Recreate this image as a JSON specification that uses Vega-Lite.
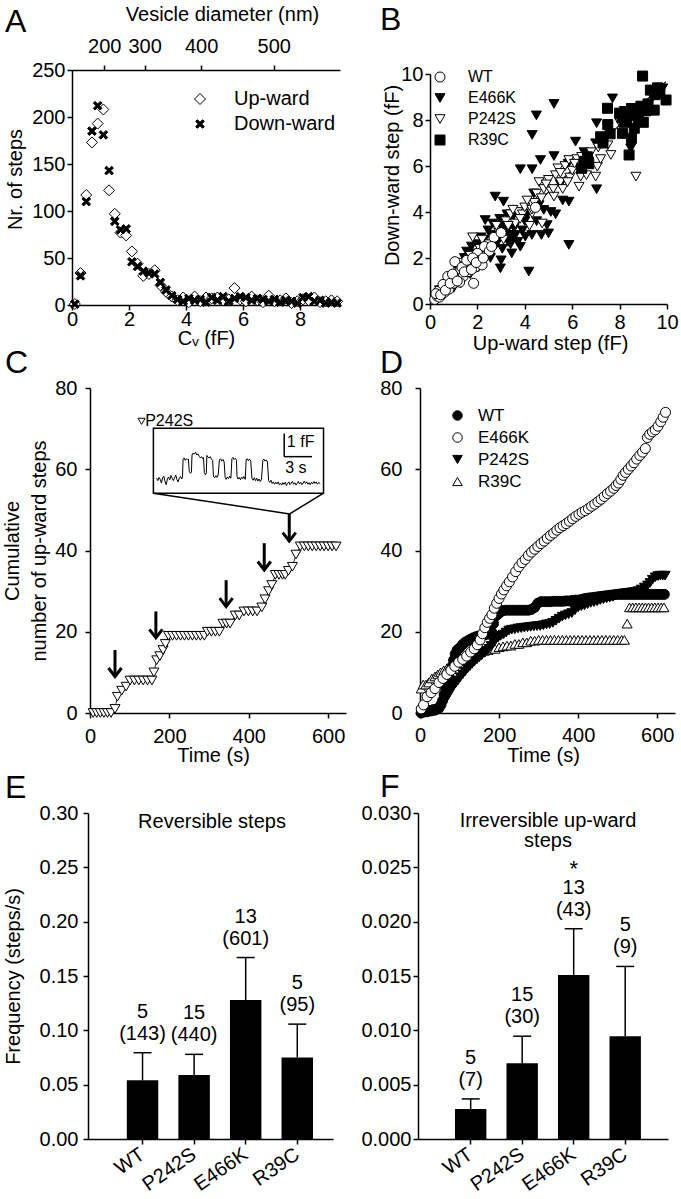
{
"$schema": "https://vega.github.io/schema/vega-lite/v6.json",
"background": "white",
"padding": 0,
"autosize": {"type": "pad"},
"columns": 4,
"spacing": {"row": 0, "column": 0},
"bounds": "flush",
"align": "each",
"resolve": {"scale": {"shape": "independent", "fill": "independent", "stroke": "independent", "size": "independent"}, "legend": {"shape": "independent", "fill": "independent", "stroke": "independent", "size": "independent"}},
"datasets": {
"histA": [
{"cv":0.1,"n":1,"dir":"Up-ward"},{"cv":0.3,"n":34,"dir":"Up-ward"},{"cv":0.5,"n":117,"dir":"Up-ward"},{"cv":0.7,"n":173,"dir":"Up-ward"},{"cv":0.9,"n":193,"dir":"Up-ward"},{"cv":1.1,"n":208,"dir":"Up-ward"},{"cv":1.3,"n":122,"dir":"Up-ward"},{"cv":1.5,"n":97,"dir":"Up-ward"},{"cv":1.7,"n":77,"dir":"Up-ward"},{"cv":1.9,"n":74,"dir":"Up-ward"},{"cv":2.1,"n":57,"dir":"Up-ward"},{"cv":2.3,"n":44,"dir":"Up-ward"},{"cv":2.5,"n":31,"dir":"Up-ward"},{"cv":2.7,"n":33,"dir":"Up-ward"},{"cv":2.9,"n":37,"dir":"Up-ward"},{"cv":3.1,"n":21,"dir":"Up-ward"},{"cv":3.3,"n":14,"dir":"Up-ward"},{"cv":3.5,"n":9,"dir":"Up-ward"},{"cv":3.7,"n":5,"dir":"Up-ward"},{"cv":3.9,"n":8,"dir":"Up-ward"},{"cv":4.1,"n":3,"dir":"Up-ward"},{"cv":4.3,"n":9,"dir":"Up-ward"},{"cv":4.5,"n":4,"dir":"Up-ward"},{"cv":4.7,"n":8,"dir":"Up-ward"},{"cv":4.9,"n":7,"dir":"Up-ward"},{"cv":5.1,"n":8,"dir":"Up-ward"},{"cv":5.3,"n":5,"dir":"Up-ward"},{"cv":5.5,"n":6,"dir":"Up-ward"},{"cv":5.7,"n":18,"dir":"Up-ward"},{"cv":5.9,"n":6,"dir":"Up-ward"},{"cv":6.1,"n":4,"dir":"Up-ward"},{"cv":6.3,"n":9,"dir":"Up-ward"},{"cv":6.5,"n":5,"dir":"Up-ward"},{"cv":6.7,"n":3,"dir":"Up-ward"},{"cv":6.9,"n":10,"dir":"Up-ward"},{"cv":7.1,"n":4,"dir":"Up-ward"},{"cv":7.3,"n":5,"dir":"Up-ward"},{"cv":7.5,"n":7,"dir":"Up-ward"},{"cv":7.7,"n":2,"dir":"Up-ward"},{"cv":7.9,"n":4,"dir":"Up-ward"},{"cv":8.1,"n":6,"dir":"Up-ward"},{"cv":8.3,"n":5,"dir":"Up-ward"},{"cv":8.5,"n":8,"dir":"Up-ward"},{"cv":8.7,"n":3,"dir":"Up-ward"},{"cv":8.9,"n":4,"dir":"Up-ward"},{"cv":9.1,"n":5,"dir":"Up-ward"},{"cv":9.3,"n":4,"dir":"Up-ward"},
{"cv":0.1,"n":1,"dir":"Down-ward"},{"cv":0.3,"n":31,"dir":"Down-ward"},{"cv":0.5,"n":110,"dir":"Down-ward"},{"cv":0.7,"n":185,"dir":"Down-ward"},{"cv":0.9,"n":212,"dir":"Down-ward"},{"cv":1.1,"n":181,"dir":"Down-ward"},{"cv":1.3,"n":143,"dir":"Down-ward"},{"cv":1.5,"n":89,"dir":"Down-ward"},{"cv":1.7,"n":80,"dir":"Down-ward"},{"cv":1.9,"n":81,"dir":"Down-ward"},{"cv":2.1,"n":46,"dir":"Down-ward"},{"cv":2.3,"n":41,"dir":"Down-ward"},{"cv":2.5,"n":36,"dir":"Down-ward"},{"cv":2.7,"n":34,"dir":"Down-ward"},{"cv":2.9,"n":33,"dir":"Down-ward"},{"cv":3.1,"n":24,"dir":"Down-ward"},{"cv":3.3,"n":16,"dir":"Down-ward"},{"cv":3.5,"n":10,"dir":"Down-ward"},{"cv":3.7,"n":6,"dir":"Down-ward"},{"cv":3.9,"n":4,"dir":"Down-ward"},{"cv":4.1,"n":7,"dir":"Down-ward"},{"cv":4.3,"n":5,"dir":"Down-ward"},{"cv":4.5,"n":6,"dir":"Down-ward"},{"cv":4.7,"n":3,"dir":"Down-ward"},{"cv":4.9,"n":8,"dir":"Down-ward"},{"cv":5.1,"n":5,"dir":"Down-ward"},{"cv":5.3,"n":9,"dir":"Down-ward"},{"cv":5.5,"n":4,"dir":"Down-ward"},{"cv":5.7,"n":7,"dir":"Down-ward"},{"cv":5.9,"n":9,"dir":"Down-ward"},{"cv":6.1,"n":8,"dir":"Down-ward"},{"cv":6.3,"n":5,"dir":"Down-ward"},{"cv":6.5,"n":7,"dir":"Down-ward"},{"cv":6.7,"n":6,"dir":"Down-ward"},{"cv":6.9,"n":4,"dir":"Down-ward"},{"cv":7.1,"n":6,"dir":"Down-ward"},{"cv":7.3,"n":3,"dir":"Down-ward"},{"cv":7.5,"n":5,"dir":"Down-ward"},{"cv":7.7,"n":4,"dir":"Down-ward"},{"cv":7.9,"n":2,"dir":"Down-ward"},{"cv":8.1,"n":8,"dir":"Down-ward"},{"cv":8.3,"n":9,"dir":"Down-ward"},{"cv":8.5,"n":4,"dir":"Down-ward"},{"cv":8.7,"n":5,"dir":"Down-ward"},{"cv":8.9,"n":2,"dir":"Down-ward"},{"cv":9.1,"n":3,"dir":"Down-ward"},{"cv":9.3,"n":2,"dir":"Down-ward"}
],
"fitB": [{"up":0.2,"down":0.2},{"up":9.95,"down":9.67}],
"scatB": [
{"up":0.3,"down":0.3,"m":"E466K"},{"up":0.5,"down":0.5,"m":"E466K"},{"up":0.7,"down":0.6,"m":"E466K"},{"up":0.9,"down":0.8,"m":"E466K"},{"up":1.0,"down":1.2,"m":"E466K"},{"up":1.2,"down":1.5,"m":"E466K"},{"up":1.3,"down":0.9,"m":"E466K"},{"up":1.5,"down":1.6,"m":"E466K"},{"up":1.55,"down":2.28,"m":"E466K"},{"up":1.7,"down":1.3,"m":"E466K"},{"up":1.84,"down":2.2,"m":"E466K"},{"up":1.9,"down":1.8,"m":"E466K"},{"up":2.0,"down":2.6,"m":"E466K"},{"up":2.2,"down":2.0,"m":"E466K"},{"up":2.33,"down":3.65,"m":"E466K"},{"up":2.4,"down":2.8,"m":"E466K"},{"up":2.5,"down":2.3,"m":"E466K"},{"up":2.6,"down":3.0,"m":"E466K"},{"up":2.75,"down":4.67,"m":"E466K"},{"up":2.8,"down":2.6,"m":"E466K"},{"up":2.97,"down":1.55,"m":"E466K"},{"up":3.0,"down":3.4,"m":"E466K"},{"up":3.1,"down":4.45,"m":"E466K"},{"up":3.2,"down":2.9,"m":"E466K"},{"up":3.3,"down":3.3,"m":"E466K"},{"up":3.4,"down":2.6,"m":"E466K"},{"up":3.5,"down":3.8,"m":"E466K"},{"up":3.6,"down":3.0,"m":"E466K"},{"up":3.81,"down":2.49,"m":"E466K"},{"up":3.81,"down":5.86,"m":"E466K"},{"up":4.02,"down":2.93,"m":"E466K"},{"up":4.17,"down":1.41,"m":"E466K"},{"up":4.0,"down":3.6,"m":"E466K"},{"up":4.31,"down":5.86,"m":"E466K"},{"up":4.31,"down":7.35,"m":"E466K"},{"up":4.38,"down":4.81,"m":"E466K"},{"up":4.49,"down":8.2,"m":"E466K"},{"up":4.66,"down":6.26,"m":"E466K"},{"up":4.8,"down":4.09,"m":"E466K"},{"up":4.94,"down":3.43,"m":"E466K"},{"up":5.0,"down":3.07,"m":"E466K"},{"up":5.23,"down":8.7,"m":"E466K"},{"up":5.23,"down":6.43,"m":"E466K"},{"up":5.5,"down":5.2,"m":"E466K"},{"up":5.83,"down":6.1,"m":"E466K"},{"up":5.86,"down":4.45,"m":"E466K"},{"up":5.86,"down":2.57,"m":"E466K"},{"up":6.14,"down":7.06,"m":"E466K"},{"up":6.5,"down":6.6,"m":"E466K"},{"up":6.99,"down":6.99,"m":"E466K"},{"up":7.03,"down":7.86,"m":"E466K"},{"up":7.03,"down":4.99,"m":"E466K"},{"up":7.7,"down":8.94,"m":"E466K"},{"up":8.47,"down":6.77,"m":"E466K"},{"up":9.82,"down":9.38,"m":"E466K"},{"up":9.4,"down":9.0,"m":"E466K"},{"up":8.2,"down":8.4,"m":"E466K"},{"up":2.1,"down":2.4,"m":"E466K"},{"up":1.1,"down":1.0,"m":"E466K"},{"up":2.9,"down":3.0,"m":"E466K"},{"up":3.3,"down":2.7,"m":"E466K"},{"up":1.6,"down":2.0,"m":"E466K"},
{"up":0.4,"down":0.6,"m":"E466K"},{"up":0.6,"down":0.4,"m":"E466K"},{"up":0.8,"down":1.1,"m":"E466K"},{"up":1.0,"down":0.7,"m":"E466K"},{"up":1.15,"down":1.7,"m":"E466K"},{"up":1.35,"down":1.3,"m":"E466K"},{"up":1.45,"down":2.0,"m":"E466K"},{"up":1.65,"down":1.7,"m":"E466K"},{"up":1.75,"down":2.5,"m":"E466K"},{"up":1.95,"down":2.1,"m":"E466K"},{"up":2.05,"down":1.6,"m":"E466K"},{"up":2.15,"down":2.9,"m":"E466K"},{"up":2.25,"down":2.5,"m":"E466K"},{"up":2.45,"down":3.2,"m":"E466K"},{"up":2.55,"down":2.0,"m":"E466K"},{"up":2.65,"down":3.5,"m":"E466K"},{"up":2.85,"down":2.9,"m":"E466K"},{"up":2.95,"down":3.7,"m":"E466K"},{"up":3.05,"down":2.4,"m":"E466K"},{"up":3.15,"down":3.2,"m":"E466K"},{"up":3.25,"down":3.9,"m":"E466K"},{"up":3.35,"down":3.0,"m":"E466K"},{"up":3.45,"down":2.2,"m":"E466K"},{"up":3.55,"down":3.3,"m":"E466K"},{"up":3.7,"down":2.7,"m":"E466K"},{"up":3.9,"down":3.2,"m":"E466K"},{"up":4.1,"down":3.9,"m":"E466K"},{"up":4.3,"down":3.0,"m":"E466K"},{"up":4.5,"down":3.6,"m":"E466K"},{"up":4.6,"down":4.3,"m":"E466K"},{"up":4.7,"down":3.0,"m":"E466K"},{"up":5.1,"down":4.0,"m":"E466K"},{"up":5.3,"down":3.9,"m":"E466K"},{"up":5.6,"down":4.5,"m":"E466K"},{"up":2.35,"down":2.3,"m":"E466K"},{"up":1.25,"down":1.1,"m":"E466K"},{"up":3.0,"down":1.9,"m":"E466K"},{"up":3.5,"down":2.9,"m":"E466K"},
{"up":0.3,"down":0.4,"m":"P242S"},{"up":0.6,"down":0.7,"m":"P242S"},{"up":0.8,"down":1.0,"m":"P242S"},{"up":1.1,"down":1.0,"m":"P242S"},{"up":1.4,"down":1.8,"m":"P242S"},{"up":1.7,"down":2.1,"m":"P242S"},{"up":1.8,"down":2.9,"m":"P242S"},{"up":2.1,"down":2.4,"m":"P242S"},{"up":2.4,"down":2.1,"m":"P242S"},{"up":2.6,"down":2.7,"m":"P242S"},{"up":2.9,"down":3.1,"m":"P242S"},{"up":3.2,"down":3.6,"m":"P242S"},{"up":3.4,"down":3.9,"m":"P242S"},{"up":3.6,"down":3.5,"m":"P242S"},{"up":3.7,"down":4.0,"m":"P242S"},{"up":3.9,"down":3.9,"m":"P242S"},{"up":4.2,"down":3.4,"m":"P242S"},{"up":4.31,"down":3.94,"m":"P242S"},{"up":4.5,"down":4.8,"m":"P242S"},{"up":4.6,"down":5.3,"m":"P242S"},{"up":4.73,"down":3.5,"m":"P242S"},{"up":4.8,"down":5.0,"m":"P242S"},{"up":5.0,"down":5.4,"m":"P242S"},{"up":5.1,"down":4.9,"m":"P242S"},{"up":5.23,"down":4.67,"m":"P242S"},{"up":5.3,"down":5.6,"m":"P242S"},{"up":5.4,"down":5.9,"m":"P242S"},{"up":5.5,"down":5.3,"m":"P242S"},{"up":5.6,"down":5.0,"m":"P242S"},{"up":5.7,"down":6.0,"m":"P242S"},{"up":5.86,"down":6.26,"m":"P242S"},{"up":5.9,"down":5.5,"m":"P242S"},{"up":6.0,"down":5.8,"m":"P242S"},{"up":6.2,"down":6.3,"m":"P242S"},{"up":6.29,"down":5.1,"m":"P242S"},{"up":6.36,"down":5.54,"m":"P242S"},{"up":6.5,"down":6.0,"m":"P242S"},{"up":6.7,"down":6.2,"m":"P242S"},{"up":6.99,"down":5.54,"m":"P242S"},{"up":7.06,"down":5.97,"m":"P242S"},{"up":7.1,"down":6.8,"m":"P242S"},{"up":7.3,"down":7.2,"m":"P242S"},{"up":7.63,"down":6.48,"m":"P242S"},{"up":7.5,"down":7.7,"m":"P242S"},{"up":8.69,"down":5.54,"m":"P242S"},{"up":8.0,"down":7.9,"m":"P242S"},{"up":4.0,"down":4.2,"m":"P242S"},{"up":4.4,"down":4.4,"m":"P242S"},
{"up":0.5,"down":0.45,"m":"P242S"},{"up":0.9,"down":0.8,"m":"P242S"},{"up":1.2,"down":1.4,"m":"P242S"},{"up":1.5,"down":1.3,"m":"P242S"},{"up":1.9,"down":1.7,"m":"P242S"},{"up":2.2,"down":2.8,"m":"P242S"},{"up":2.5,"down":2.6,"m":"P242S"},{"up":2.8,"down":3.4,"m":"P242S"},{"up":3.1,"down":2.8,"m":"P242S"},{"up":3.3,"down":3.4,"m":"P242S"},{"up":3.5,"down":4.1,"m":"P242S"},{"up":3.8,"down":3.7,"m":"P242S"},{"up":4.1,"down":4.5,"m":"P242S"},{"up":4.3,"down":4.1,"m":"P242S"},{"up":4.7,"down":4.6,"m":"P242S"},{"up":4.9,"down":5.2,"m":"P242S"},{"up":5.2,"down":5.0,"m":"P242S"},{"up":5.5,"down":5.7,"m":"P242S"},{"up":5.8,"down":5.3,"m":"P242S"},{"up":6.1,"down":6.1,"m":"P242S"},{"up":6.4,"down":6.4,"m":"P242S"},{"up":6.6,"down":5.6,"m":"P242S"},{"up":6.8,"down":6.6,"m":"P242S"},{"up":7.2,"down":6.3,"m":"P242S"},{"up":7.5,"down":6.9,"m":"P242S"},
{"up":0.2,"down":0.2,"m":"WT"},{"up":0.3,"down":0.35,"m":"WT"},{"up":0.4,"down":0.3,"m":"WT"},{"up":0.5,"down":0.6,"m":"WT"},{"up":0.6,"down":0.5,"m":"WT"},{"up":0.7,"down":0.8,"m":"WT"},{"up":0.8,"down":0.65,"m":"WT"},{"up":0.9,"down":1.0,"m":"WT"},{"up":1.0,"down":0.9,"m":"WT"},{"up":1.05,"down":1.84,"m":"WT"},{"up":1.1,"down":1.3,"m":"WT"},{"up":1.2,"down":1.1,"m":"WT"},{"up":1.3,"down":1.5,"m":"WT"},{"up":1.4,"down":1.2,"m":"WT"},{"up":1.5,"down":1.7,"m":"WT"},{"up":1.6,"down":1.4,"m":"WT"},{"up":1.7,"down":1.9,"m":"WT"},{"up":1.84,"down":0.9,"m":"WT"},{"up":1.9,"down":1.6,"m":"WT"},{"up":2.0,"down":2.2,"m":"WT"},{"up":2.1,"down":1.9,"m":"WT"},{"up":2.3,"down":2.5,"m":"WT"},{"up":2.5,"down":2.3,"m":"WT"},{"up":2.7,"down":2.9,"m":"WT"},{"up":3.0,"down":3.1,"m":"WT"},{"up":4.45,"down":4.2,"m":"WT"},{"up":0.35,"down":0.55,"m":"WT"},{"up":0.75,"down":1.2,"m":"WT"},{"up":1.25,"down":0.95,"m":"WT"},{"up":2.2,"down":1.7,"m":"WT"},
{"up":0.25,"down":0.45,"m":"WT"},{"up":0.45,"down":0.4,"m":"WT"},{"up":0.55,"down":0.85,"m":"WT"},{"up":0.65,"down":0.6,"m":"WT"},{"up":0.85,"down":0.9,"m":"WT"},{"up":0.95,"down":1.3,"m":"WT"},{"up":1.15,"down":1.0,"m":"WT"},{"up":1.35,"down":1.6,"m":"WT"},{"up":1.45,"down":1.4,"m":"WT"},{"up":1.55,"down":1.9,"m":"WT"},{"up":1.75,"down":1.5,"m":"WT"},{"up":1.8,"down":2.0,"m":"WT"},{"up":1.95,"down":1.8,"m":"WT"},{"up":2.25,"down":2.0,"m":"WT"},{"up":2.6,"down":2.5,"m":"WT"},
{"up":6.5,"down":6.2,"m":"R39C"},{"up":6.64,"down":6.4,"m":"R39C"},{"up":6.7,"down":6.1,"m":"R39C"},{"up":6.4,"down":5.9,"m":"R39C"},{"up":7.2,"down":7.27,"m":"R39C"},{"up":7.3,"down":7.0,"m":"R39C"},{"up":7.49,"down":8.51,"m":"R39C"},{"up":7.5,"down":7.8,"m":"R39C"},{"up":7.6,"down":7.4,"m":"R39C"},{"up":8.12,"down":7.42,"m":"R39C"},{"up":8.26,"down":8.29,"m":"R39C"},{"up":8.3,"down":8.0,"m":"R39C"},{"up":8.4,"down":6.48,"m":"R39C"},{"up":8.5,"down":8.5,"m":"R39C"},{"up":8.62,"down":7.64,"m":"R39C"},{"up":8.7,"down":8.2,"m":"R39C"},{"up":8.8,"down":8.0,"m":"R39C"},{"up":8.97,"down":9.91,"m":"R39C"},{"up":8.9,"down":8.6,"m":"R39C"},{"up":9.1,"down":8.4,"m":"R39C"},{"up":9.2,"down":8.7,"m":"R39C"},{"up":9.3,"down":9.3,"m":"R39C"},{"up":9.46,"down":8.43,"m":"R39C"},{"up":9.5,"down":9.1,"m":"R39C"},{"up":9.6,"down":9.4,"m":"R39C"},{"up":9.96,"down":8.87,"m":"R39C"},{"up":9.0,"down":7.9,"m":"R39C"},{"up":8.1,"down":8.1,"m":"R39C"},{"up":8.5,"down":7.2,"m":"R39C"},{"up":9.7,"down":9.2,"m":"R39C"},{"up":8.2,"down":7.9,"m":"R39C"},{"up":8.0,"down":8.3,"m":"R39C"}
],
"cumC": [
{"t":8,"n":0},{"t":17,"n":0},{"t":26,"n":0},{"t":35,"n":0},{"t":44,"n":0},{"t":53,"n":0},{"t":63,"n":1},{"t":69,"n":4},{"t":80,"n":5.5},{"t":91,"n":6.5},{"t":101,"n":8},{"t":112,"n":8},{"t":123,"n":8},{"t":134,"n":8},{"t":145,"n":8},{"t":156,"n":8},{"t":161,"n":10},{"t":168,"n":13},{"t":176,"n":14},{"t":184,"n":15.5},{"t":190,"n":17},{"t":198,"n":19},{"t":208,"n":19},{"t":218,"n":19},{"t":228,"n":19},{"t":238,"n":19},{"t":248,"n":19},{"t":258,"n":19},{"t":268,"n":19},{"t":278,"n":19},{"t":288,"n":19},{"t":296,"n":20},{"t":306,"n":20},{"t":316,"n":20},{"t":326,"n":20},{"t":335,"n":22},{"t":344,"n":22},{"t":353,"n":22},{"t":366,"n":24},{"t":376,"n":24},{"t":388,"n":25},{"t":399,"n":25},{"t":410,"n":25},{"t":421,"n":25},{"t":433,"n":26},{"t":441,"n":28},{"t":450,"n":30},{"t":458,"n":31.5},{"t":467,"n":34},{"t":476,"n":34},{"t":485,"n":34},{"t":492,"n":34},{"t":500,"n":35},{"t":510,"n":36},{"t":519,"n":39},{"t":530,"n":41},{"t":540,"n":41},{"t":550,"n":41},{"t":560,"n":41},{"t":570,"n":41},{"t":580,"n":41},{"t":590,"n":41},{"t":600,"n":41},{"t":610,"n":41},{"t":620,"n":41}
],
"arrowC": [{"t":63,"top":15.5,"tip":9},{"t":166,"top":25,"tip":18.5},{"t":343,"top":32.7,"tip":26.2},{"t":439,"top":41.8,"tip":35.2},{"t":502,"top":49,"tip":42.3}],
"boxC": [{"t1":159.7,"t2":588.4,"n1":54.1,"n2":70.1}],
"segC": [{"t1":159.7,"n1":54.1,"t2":503,"n2":49},{"t1":588.4,"n1":54.1,"t2":503,"n2":49},{"t1":489.3,"n1":63.1,"t2":489.3,"n2":68.8},{"t1":489.3,"n1":63.1,"t2":559.2,"n2":63.1}],
"textC": [{"t":139,"n":71.8,"label":"P242S"},{"t":496,"n":66.6,"label":"1 fF"},{"t":492,"n":60.2,"label":"3 s"}],
"traceC": [
{"t":168,"n":57.8},{"t":171,"n":57.2},{"t":174,"n":58.0},{"t":177,"n":57.5},{"t":180,"n":56.6},{"t":183,"n":57.9},{"t":186,"n":58.3},{"t":189,"n":57.0},{"t":192,"n":56.2},{"t":195,"n":57.6},{"t":198,"n":58.1},{"t":201,"n":57.4},{"t":204,"n":58.5},{"t":207,"n":57.8},{"t":210,"n":57.2},{"t":213,"n":57.9},{"t":216,"n":58.6},{"t":219,"n":57.5},{"t":222,"n":56.9},{"t":225,"n":57.8},{"t":228,"n":58.2},{"t":231,"n":57.6},{"t":233,"n":58.0},{"t":234.5,"n":62.4},{"t":237,"n":62.8},{"t":240,"n":62.2},{"t":243,"n":62.6},{"t":246,"n":62.3},{"t":248,"n":62.5},{"t":250,"n":59.5},{"t":253,"n":59.0},{"t":255.5,"n":59.3},{"t":257,"n":63.5},{"t":260,"n":64.0},{"t":263,"n":63.7},{"t":266,"n":64.2},{"t":269,"n":63.5},{"t":272,"n":63.8},{"t":275,"n":63.2},{"t":278,"n":62.8},{"t":281,"n":63.1},{"t":284,"n":62.6},{"t":286,"n":62.9},{"t":288,"n":59.2},{"t":291,"n":58.6},{"t":293,"n":59.0},{"t":294.5,"n":63.4},{"t":297,"n":63.0},{"t":300,"n":62.8},{"t":303,"n":63.1},{"t":306,"n":62.5},{"t":309,"n":62.2},{"t":311,"n":58.3},{"t":314,"n":57.9},{"t":317,"n":58.4},{"t":320,"n":58.0},{"t":323,"n":58.6},{"t":326,"n":62.3},{"t":329,"n":62.6},{"t":332,"n":62.0},{"t":335,"n":62.4},{"t":338,"n":61.8},{"t":340.5,"n":58.0},{"t":343,"n":57.5},{"t":346,"n":58.1},{"t":349,"n":57.7},{"t":352,"n":58.3},{"t":355,"n":57.8},{"t":357.5,"n":62.6},{"t":360,"n":62.9},{"t":363,"n":62.4},{"t":366,"n":62.7},{"t":369,"n":62.2},{"t":370.5,"n":58.2},{"t":373,"n":57.6},{"t":376,"n":58.0},{"t":379,"n":57.4},{"t":382,"n":58.1},{"t":385,"n":57.7},{"t":388,"n":58.2},{"t":391,"n":57.5},{"t":393.5,"n":62.3},{"t":396,"n":62.6},{"t":399,"n":62.1},{"t":402,"n":62.5},{"t":405,"n":62.0},{"t":408,"n":57.8},{"t":411,"n":57.3},{"t":414,"n":57.9},{"t":417,"n":57.2},{"t":420,"n":57.8},{"t":423,"n":57.1},{"t":426,"n":57.6},{"t":429,"n":57.0},{"t":432,"n":57.5},{"t":435.5,"n":62.2},{"t":438,"n":62.5},{"t":441,"n":62.0},{"t":444,"n":62.3},{"t":447,"n":61.8},{"t":450,"n":57.2},{"t":453,"n":56.8},{"t":456,"n":57.3},{"t":459,"n":56.5},{"t":462,"n":56.9},{"t":465,"n":56.3},{"t":468,"n":56.8},{"t":471,"n":56.4},{"t":474,"n":56.9},{"t":477,"n":56.2},{"t":480,"n":56.6},{"t":483,"n":56.1},{"t":486,"n":56.7},{"t":489,"n":56.3},{"t":492,"n":56.8},{"t":495,"n":56.0},{"t":498,"n":56.5},{"t":501,"n":56.9},{"t":504,"n":56.2},{"t":507,"n":56.6},{"t":510,"n":57.0},{"t":513,"n":56.3},{"t":516,"n":56.7},{"t":519,"n":56.1},{"t":522,"n":56.5},{"t":525,"n":57.0},{"t":528,"n":56.4},{"t":531,"n":56.8},{"t":534,"n":56.2},{"t":537,"n":56.6},{"t":540,"n":57.1},{"t":543,"n":56.5},{"t":546,"n":56.9},{"t":549,"n":56.3},{"t":552,"n":56.7},{"t":555,"n":56.2},{"t":558,"n":56.8},{"t":561,"n":56.4},{"t":564,"n":57.0},{"t":567,"n":56.5},{"t":570,"n":56.9},{"t":573,"n":56.3},{"t":576,"n":56.7},{"t":580,"n":56.5}
],
"cumD": [
{"t":3,"n":6,"m":"R39C"},{"t":8,"n":7,"m":"R39C"},{"t":15,"n":7,"m":"R39C"},{"t":22,"n":7.5,"m":"R39C"},{"t":30,"n":8.5,"m":"R39C"},{"t":38,"n":9,"m":"R39C"},{"t":45,"n":9.5,"m":"R39C"},{"t":52,"n":10,"m":"R39C"},{"t":60,"n":10.5,"m":"R39C"},{"t":68,"n":11,"m":"R39C"},{"t":78,"n":11.4,"m":"R39C"},{"t":86,"n":12.5,"m":"R39C"},{"t":95,"n":13,"m":"R39C"},{"t":103,"n":13.5,"m":"R39C"},{"t":111,"n":13.8,"m":"R39C"},{"t":120,"n":14.2,"m":"R39C"},{"t":128,"n":14.6,"m":"R39C"},{"t":136,"n":14.8,"m":"R39C"},{"t":145,"n":15,"m":"R39C"},{"t":154,"n":15,"m":"R39C"},{"t":163,"n":15.3,"m":"R39C"},{"t":172,"n":15.5,"m":"R39C"},{"t":180,"n":15.8,"m":"R39C"},{"t":190,"n":15.8,"m":"R39C"},{"t":200,"n":16.2,"m":"R39C"},{"t":210,"n":16.4,"m":"R39C"},{"t":220,"n":16.6,"m":"R39C"},{"t":230,"n":16.6,"m":"R39C"},{"t":240,"n":17,"m":"R39C"},{"t":250,"n":17,"m":"R39C"},{"t":260,"n":17.4,"m":"R39C"},{"t":270,"n":17.4,"m":"R39C"},{"t":280,"n":17.8,"m":"R39C"},{"t":290,"n":17.8,"m":"R39C"},{"t":300,"n":18,"m":"R39C"},{"t":310,"n":18,"m":"R39C"},{"t":320,"n":18,"m":"R39C"},{"t":330,"n":18,"m":"R39C"},{"t":340,"n":18,"m":"R39C"},{"t":350,"n":18,"m":"R39C"},{"t":360,"n":18,"m":"R39C"},{"t":370,"n":18,"m":"R39C"},{"t":380,"n":18,"m":"R39C"},{"t":390,"n":18,"m":"R39C"},{"t":400,"n":18,"m":"R39C"},{"t":410,"n":18,"m":"R39C"},{"t":420,"n":18,"m":"R39C"},{"t":430,"n":18,"m":"R39C"},{"t":440,"n":18,"m":"R39C"},{"t":450,"n":18,"m":"R39C"},{"t":460,"n":18,"m":"R39C"},{"t":470,"n":18,"m":"R39C"},{"t":480,"n":18,"m":"R39C"},{"t":490,"n":18,"m":"R39C"},{"t":500,"n":18,"m":"R39C"},{"t":510,"n":18,"m":"R39C"},{"t":517,"n":18,"m":"R39C"},{"t":524,"n":22,"m":"R39C"},{"t":530,"n":26,"m":"R39C"},{"t":538,"n":26,"m":"R39C"},{"t":546,"n":26,"m":"R39C"},{"t":554,"n":26,"m":"R39C"},{"t":562,"n":26,"m":"R39C"},{"t":570,"n":26,"m":"R39C"},{"t":578,"n":26,"m":"R39C"},{"t":586,"n":26,"m":"R39C"},{"t":594,"n":26,"m":"R39C"},{"t":602,"n":26,"m":"R39C"},{"t":610,"n":26,"m":"R39C"},{"t":617,"n":26,"m":"R39C"},
{"t":5,"n":0,"m":"P242S"},{"t":12,"n":0,"m":"P242S"},{"t":19,"n":0.3,"m":"P242S"},{"t":26,"n":0.5,"m":"P242S"},{"t":33,"n":0.5,"m":"P242S"},{"t":40,"n":0.8,"m":"P242S"},{"t":47,"n":1,"m":"P242S"},{"t":54,"n":1.5,"m":"P242S"},{"t":60,"n":2.5,"m":"P242S"},{"t":66,"n":3.5,"m":"P242S"},{"t":72,"n":4.5,"m":"P242S"},{"t":78,"n":5.5,"m":"P242S"},{"t":84,"n":6.5,"m":"P242S"},{"t":90,"n":7.3,"m":"P242S"},{"t":96,"n":8,"m":"P242S"},{"t":102,"n":8.8,"m":"P242S"},{"t":108,"n":9.5,"m":"P242S"},{"t":114,"n":10.2,"m":"P242S"},{"t":120,"n":10.9,"m":"P242S"},{"t":126,"n":11.5,"m":"P242S"},{"t":132,"n":12.1,"m":"P242S"},{"t":138,"n":12.7,"m":"P242S"},{"t":144,"n":13.2,"m":"P242S"},{"t":150,"n":13.7,"m":"P242S"},{"t":156,"n":14.2,"m":"P242S"},{"t":162,"n":14.8,"m":"P242S"},{"t":168,"n":15.3,"m":"P242S"},{"t":174,"n":15.8,"m":"P242S"},{"t":180,"n":16.5,"m":"P242S"},{"t":186,"n":17.3,"m":"P242S"},{"t":192,"n":18.1,"m":"P242S"},{"t":198,"n":18.6,"m":"P242S"},{"t":204,"n":19,"m":"P242S"},{"t":211,"n":19.3,"m":"P242S"},{"t":218,"n":19.8,"m":"P242S"},{"t":225,"n":20.3,"m":"P242S"},{"t":232,"n":20.5,"m":"P242S"},{"t":240,"n":20.6,"m":"P242S"},{"t":248,"n":20.8,"m":"P242S"},{"t":256,"n":20.9,"m":"P242S"},{"t":264,"n":21,"m":"P242S"},{"t":272,"n":21.1,"m":"P242S"},{"t":280,"n":21.2,"m":"P242S"},{"t":288,"n":21.3,"m":"P242S"},{"t":296,"n":21.4,"m":"P242S"},{"t":304,"n":21.4,"m":"P242S"},{"t":312,"n":21.6,"m":"P242S"},{"t":320,"n":21.8,"m":"P242S"},{"t":328,"n":21.9,"m":"P242S"},{"t":336,"n":22.2,"m":"P242S"},{"t":344,"n":22.7,"m":"P242S"},{"t":352,"n":23.2,"m":"P242S"},{"t":360,"n":23.7,"m":"P242S"},{"t":368,"n":24,"m":"P242S"},{"t":376,"n":24.3,"m":"P242S"},{"t":384,"n":24.6,"m":"P242S"},{"t":392,"n":25.3,"m":"P242S"},{"t":400,"n":26,"m":"P242S"},{"t":408,"n":26.3,"m":"P242S"},{"t":416,"n":26.5,"m":"P242S"},{"t":424,"n":26.8,"m":"P242S"},{"t":432,"n":27.1,"m":"P242S"},{"t":440,"n":27.3,"m":"P242S"},{"t":448,"n":27.5,"m":"P242S"},{"t":456,"n":27.8,"m":"P242S"},{"t":464,"n":28,"m":"P242S"},{"t":472,"n":28.2,"m":"P242S"},{"t":480,"n":28.4,"m":"P242S"},{"t":488,"n":28.6,"m":"P242S"},{"t":496,"n":28.9,"m":"P242S"},{"t":504,"n":29.2,"m":"P242S"},{"t":512,"n":29.4,"m":"P242S"},{"t":520,"n":29.5,"m":"P242S"},{"t":528,"n":29.6,"m":"P242S"},{"t":536,"n":29.7,"m":"P242S"},{"t":544,"n":29.8,"m":"P242S"},{"t":552,"n":30,"m":"P242S"},{"t":560,"n":30.4,"m":"P242S"},{"t":568,"n":30.9,"m":"P242S"},{"t":576,"n":31.4,"m":"P242S"},{"t":582,"n":32,"m":"P242S"},{"t":588,"n":32.8,"m":"P242S"},{"t":595,"n":33.4,"m":"P242S"},{"t":602,"n":33.7,"m":"P242S"},{"t":608,"n":33.8,"m":"P242S"},{"t":614,"n":33.8,"m":"P242S"},{"t":620,"n":33.8,"m":"P242S"},
{"t":3,"n":0,"m":"WT"},{"t":8,"n":0.3,"m":"WT"},{"t":13,"n":0.5,"m":"WT"},{"t":18,"n":0.3,"m":"WT"},{"t":23,"n":0.6,"m":"WT"},{"t":28,"n":0.5,"m":"WT"},{"t":33,"n":0.8,"m":"WT"},{"t":38,"n":0.7,"m":"WT"},{"t":43,"n":1,"m":"WT"},{"t":48,"n":1.2,"m":"WT"},{"t":53,"n":2,"m":"WT"},{"t":57,"n":3,"m":"WT"},{"t":61,"n":4.5,"m":"WT"},{"t":65,"n":6,"m":"WT"},{"t":69,"n":7.5,"m":"WT"},{"t":73,"n":9,"m":"WT"},{"t":77,"n":10.5,"m":"WT"},{"t":81,"n":11.5,"m":"WT"},{"t":85,"n":13,"m":"WT"},{"t":89,"n":14.5,"m":"WT"},{"t":94,"n":15.5,"m":"WT"},{"t":100,"n":16,"m":"WT"},{"t":107,"n":16.8,"m":"WT"},{"t":114,"n":17.4,"m":"WT"},{"t":121,"n":17.8,"m":"WT"},{"t":128,"n":18.2,"m":"WT"},{"t":135,"n":18.5,"m":"WT"},{"t":142,"n":18.8,"m":"WT"},{"t":150,"n":19,"m":"WT"},{"t":158,"n":19.2,"m":"WT"},{"t":166,"n":19.3,"m":"WT"},{"t":174,"n":19.5,"m":"WT"},{"t":181,"n":20,"m":"WT"},{"t":186,"n":22,"m":"WT"},{"t":191,"n":23.8,"m":"WT"},{"t":197,"n":24.3,"m":"WT"},{"t":203,"n":24.8,"m":"WT"},{"t":210,"n":25.2,"m":"WT"},{"t":218,"n":25.3,"m":"WT"},{"t":226,"n":25.3,"m":"WT"},{"t":234,"n":25.3,"m":"WT"},{"t":242,"n":25.3,"m":"WT"},{"t":250,"n":25.3,"m":"WT"},{"t":258,"n":25.3,"m":"WT"},{"t":266,"n":25.3,"m":"WT"},{"t":274,"n":25.3,"m":"WT"},{"t":282,"n":25.5,"m":"WT"},{"t":290,"n":26,"m":"WT"},{"t":298,"n":27,"m":"WT"},{"t":306,"n":27.4,"m":"WT"},{"t":314,"n":27.4,"m":"WT"},{"t":322,"n":27.4,"m":"WT"},{"t":330,"n":27.4,"m":"WT"},{"t":338,"n":27.5,"m":"WT"},{"t":346,"n":27.5,"m":"WT"},{"t":354,"n":27.5,"m":"WT"},{"t":362,"n":27.5,"m":"WT"},{"t":370,"n":27.6,"m":"WT"},{"t":378,"n":27.6,"m":"WT"},{"t":386,"n":27.7,"m":"WT"},{"t":394,"n":27.8,"m":"WT"},{"t":402,"n":27.8,"m":"WT"},{"t":410,"n":28,"m":"WT"},{"t":418,"n":28.2,"m":"WT"},{"t":426,"n":28.3,"m":"WT"},{"t":434,"n":28.4,"m":"WT"},{"t":442,"n":28.5,"m":"WT"},{"t":450,"n":28.6,"m":"WT"},{"t":458,"n":28.7,"m":"WT"},{"t":466,"n":28.8,"m":"WT"},{"t":474,"n":28.9,"m":"WT"},{"t":482,"n":29,"m":"WT"},{"t":490,"n":29.1,"m":"WT"},{"t":498,"n":29.2,"m":"WT"},{"t":506,"n":29.2,"m":"WT"},{"t":514,"n":29.2,"m":"WT"},{"t":522,"n":29.2,"m":"WT"},{"t":530,"n":29.2,"m":"WT"},{"t":538,"n":29.2,"m":"WT"},{"t":546,"n":29.2,"m":"WT"},{"t":554,"n":29.2,"m":"WT"},{"t":562,"n":29.2,"m":"WT"},{"t":570,"n":29.2,"m":"WT"},{"t":578,"n":29.2,"m":"WT"},{"t":586,"n":29.2,"m":"WT"},{"t":594,"n":29.2,"m":"WT"},{"t":602,"n":29.2,"m":"WT"},{"t":610,"n":29.2,"m":"WT"},{"t":618,"n":29.2,"m":"WT"},
{"t":3,"n":1,"m":"E466K"},{"t":9,"n":2,"m":"E466K"},{"t":18,"n":4,"m":"E466K"},{"t":28,"n":5,"m":"E466K"},{"t":38,"n":6,"m":"E466K"},{"t":48,"n":7.5,"m":"E466K"},{"t":58,"n":8.5,"m":"E466K"},{"t":68,"n":9.5,"m":"E466K"},{"t":78,"n":10.5,"m":"E466K"},{"t":88,"n":11.5,"m":"E466K"},{"t":98,"n":12.5,"m":"E466K"},{"t":108,"n":13.2,"m":"E466K"},{"t":118,"n":14,"m":"E466K"},{"t":128,"n":15,"m":"E466K"},{"t":137,"n":15.8,"m":"E466K"},{"t":145,"n":16.8,"m":"E466K"},{"t":152,"n":18,"m":"E466K"},{"t":158,"n":19.5,"m":"E466K"},{"t":164,"n":21,"m":"E466K"},{"t":170,"n":22.3,"m":"E466K"},{"t":176,"n":23.3,"m":"E466K"},{"t":182,"n":24.2,"m":"E466K"},{"t":188,"n":25.8,"m":"E466K"},{"t":194,"n":27,"m":"E466K"},{"t":200,"n":28.2,"m":"E466K"},{"t":206,"n":29.3,"m":"E466K"},{"t":212,"n":30.3,"m":"E466K"},{"t":219,"n":31.3,"m":"E466K"},{"t":226,"n":32.3,"m":"E466K"},{"t":234,"n":33.5,"m":"E466K"},{"t":242,"n":34.8,"m":"E466K"},{"t":250,"n":36,"m":"E466K"},{"t":258,"n":37,"m":"E466K"},{"t":266,"n":37.8,"m":"E466K"},{"t":274,"n":38.8,"m":"E466K"},{"t":282,"n":39.6,"m":"E466K"},{"t":290,"n":40.3,"m":"E466K"},{"t":298,"n":41,"m":"E466K"},{"t":306,"n":41.7,"m":"E466K"},{"t":314,"n":42.3,"m":"E466K"},{"t":322,"n":43,"m":"E466K"},{"t":330,"n":43.7,"m":"E466K"},{"t":338,"n":44.3,"m":"E466K"},{"t":346,"n":45,"m":"E466K"},{"t":354,"n":45.6,"m":"E466K"},{"t":362,"n":46.1,"m":"E466K"},{"t":370,"n":46.6,"m":"E466K"},{"t":378,"n":47.2,"m":"E466K"},{"t":386,"n":47.8,"m":"E466K"},{"t":394,"n":48.4,"m":"E466K"},{"t":402,"n":48.9,"m":"E466K"},{"t":410,"n":49.4,"m":"E466K"},{"t":418,"n":49.8,"m":"E466K"},{"t":426,"n":50.3,"m":"E466K"},{"t":434,"n":50.9,"m":"E466K"},{"t":442,"n":51.4,"m":"E466K"},{"t":450,"n":52,"m":"E466K"},{"t":458,"n":52.6,"m":"E466K"},{"t":466,"n":53.3,"m":"E466K"},{"t":474,"n":54,"m":"E466K"},{"t":482,"n":54.6,"m":"E466K"},{"t":490,"n":55.3,"m":"E466K"},{"t":496,"n":56,"m":"E466K"},{"t":502,"n":56.6,"m":"E466K"},{"t":508,"n":57.5,"m":"E466K"},{"t":514,"n":58.5,"m":"E466K"},{"t":520,"n":59.2,"m":"E466K"},{"t":527,"n":60,"m":"E466K"},{"t":534,"n":60.8,"m":"E466K"},{"t":541,"n":61.6,"m":"E466K"},{"t":548,"n":62.5,"m":"E466K"},{"t":556,"n":63.4,"m":"E466K"},{"t":563,"n":64.2,"m":"E466K"},{"t":570,"n":65.1,"m":"E466K"},{"t":575,"n":67.8,"m":"E466K"},{"t":581,"n":68.6,"m":"E466K"},{"t":588,"n":69.2,"m":"E466K"},{"t":595,"n":69.7,"m":"E466K"},{"t":602,"n":70.6,"m":"E466K"},{"t":609,"n":71.7,"m":"E466K"},{"t":615,"n":72.8,"m":"E466K"},{"t":621,"n":74,"m":"E466K"}
],
"barE": [{"g":"WT","v":0.054,"up":0.0794,"c":"5","p":"(143)","s":""},{"g":"P242S","v":0.0588,"up":0.0779,"c":"15","p":"(440)","s":""},{"g":"E466K","v":0.1278,"up":0.167,"c":"13","p":"(601)","s":""},{"g":"R39C","v":0.0751,"up":0.1057,"c":"5","p":"(95)","s":""}],
"barF": [{"g":"WT","v":0.00276,"up":0.00369,"c":"5","p":"(7)","s":""},{"g":"P242S","v":0.00697,"up":0.00946,"c":"15","p":"(30)","s":""},{"g":"E466K","v":0.0151,"up":0.01935,"c":"13","p":"(43)","s":"*"},{"g":"R39C","v":0.00946,"up":0.01588,"c":"5","p":"(9)","s":""}]
},
"concat": [
{"width": 1, "height": 70, "data": {"values": []}, "mark": "point"},
{"width": 1, "height": 1, "data": {"values": []}, "mark": "point"},
{"width": 1, "height": 1, "data": {"values": []}, "mark": "point"},
{"width": 1, "height": 1, "data": {"values": []}, "mark": "point"},

{"width": 72, "height": 318, "data": {"values": []}, "mark": "point",
 "title": {"text": "A", "anchor": "start", "frame": "group", "dx": 5, "offset": 6, "fontSize": 32, "baseline": "alphabetic", "fontWeight": "normal"}},
{"width": 268, "height": 235,
 "layer": [
  {"data": {"name": "histA"},
   "mark": {"type": "point", "filled": true, "opacity": 1, "strokeWidth": 1},
   "encoding": {
    "x": {"field": "cv", "type": "quantitative", "scale": {"domain": [0, 9.4], "nice": false, "zero": false}, "axis": {"values": [0,2,4,6,8], "title": "Cᵥ (fF)", "labelPadding": -1, "titleY": 33, "titleBaseline": "middle"}},
    "y": {"field": "n", "type": "quantitative", "scale": {"domain": [0, 250], "nice": false}, "axis": {"values": [0,50,100,150,200,250], "title": "Nr. of steps", "labelPadding": 2, "titleX": -57, "titleY": 109, "titleBaseline": "middle"}},
    "shape": {"field": "dir", "type": "nominal", "scale": {"domain": ["Up-ward","Down-ward"], "range": ["diamond", "M-1,-0.6L-0.6,-1L0,-0.4L0.6,-1L1,-0.6L0.4,0L1,0.6L0.6,1L0,0.4L-0.6,1L-1,0.6L-0.4,0Z"]},
      "legend": {"title": null, "orient": "none", "legendX": 118, "legendY": 19, "labelFontSize": 20, "symbolStrokeWidth": 1, "labelOffset": 24, "rowPadding": 5}},
    "fill": {"field": "dir", "type": "nominal", "scale": {"domain": ["Up-ward","Down-ward"], "range": ["white","black"]},
      "legend": {"title": null, "orient": "none", "legendX": 118, "legendY": 19, "labelFontSize": 20, "symbolStrokeWidth": 1, "labelOffset": 24, "rowPadding": 5}},
    "stroke": {"field": "dir", "type": "nominal", "scale": {"domain": ["Up-ward","Down-ward"], "range": ["black","black"]},
      "legend": {"title": null, "orient": "none", "legendX": 118, "legendY": 19, "labelFontSize": 20, "symbolStrokeWidth": 1, "labelOffset": 24, "rowPadding": 5}},
    "size": {"field": "dir", "type": "nominal", "scale": {"domain": ["Up-ward","Down-ward"], "range": [121, 75]},
      "legend": {"title": null, "orient": "none", "legendX": 118, "legendY": 19, "labelFontSize": 20, "symbolStrokeWidth": 1, "labelOffset": 24, "rowPadding": 5}}
   }},
  {"data": {"values": [{"d": 200}, {"d": 300}, {"d": 400}, {"d": 500}]},
   "mark": {"type": "tick", "opacity": 0},
   "encoding": {"x": {"field": "d", "type": "quantitative", "scale": {"type": "pow", "exponent": 2, "domain": [0, 576.3], "nice": false}, "axis": {"orient": "top", "values": [200,300,400,500], "title": "Vesicle diameter (nm)", "labelPadding": 9, "titleY": -56, "titleX": 150, "titleBaseline": "middle"}}}}
 ],
 "resolve": {"scale": {"x": "independent"}}
},
{"width": 72, "height": 1, "data": {"values": []}, "mark": "point",
 "title": {"text": "B", "anchor": "start", "frame": "group", "dx": 34, "offset": 8, "fontSize": 32, "baseline": "alphabetic", "fontWeight": "normal"}},
{"width": 249, "height": 234,
 "layer": [
  {"data": {"name": "fitB"}, "mark": {"type": "line", "color": "black", "strokeWidth": 1.2},
   "encoding": {
    "x": {"field": "up", "type": "quantitative", "scale": {"domain": [0, 10], "nice": false, "range": [12, 249]}, "axis": {"values": [0,2,4,6,8,10], "title": "Up-ward step (fF)", "labelPadding": 3, "titleY": 39, "titleX": 132, "titleBaseline": "middle"}},
    "y": {"field": "down", "type": "quantitative", "scale": {"domain": [0, 10], "nice": false, "range": [234, 4]}, "axis": {"values": [0,2,4,6,8,10], "title": "Down-ward step (fF)", "offset": -12, "labelPadding": 2, "titleX": -38, "titleY": 105, "titleBaseline": "middle"}}}},
  {"data": {"name": "scatB"},
   "mark": {"type": "point", "filled": true, "opacity": 1, "strokeWidth": 1, "size": 100},
   "encoding": {
    "x": {"field": "up", "type": "quantitative", "scale": {"domain": [0, 10], "nice": false, "range": [12, 249]}},
    "y": {"field": "down", "type": "quantitative", "scale": {"domain": [0, 10], "nice": false, "range": [234, 4]}},
    "shape": {"field": "m", "type": "nominal", "scale": {"domain": ["WT","E466K","P242S","R39C"], "range": ["circle","triangle-down","triangle-down","square"]},
      "legend": {"title": null, "orient": "none", "legendX": 14, "legendY": -1, "labelFontSize": 16, "symbolSize": 100, "symbolStrokeWidth": 1, "labelOffset": 20, "rowPadding": 5}},
    "fill": {"field": "m", "type": "nominal", "scale": {"domain": ["WT","E466K","P242S","R39C"], "range": ["white","black","white","black"]},
      "legend": {"title": null, "orient": "none", "legendX": 14, "legendY": -1, "labelFontSize": 16, "symbolSize": 100, "symbolStrokeWidth": 1, "labelOffset": 20, "rowPadding": 5}},
    "stroke": {"field": "m", "type": "nominal", "scale": {"domain": ["WT","E466K","P242S","R39C"], "range": ["black","black","black","black"]},
      "legend": {"title": null, "orient": "none", "legendX": 14, "legendY": -1, "labelFontSize": 16, "symbolSize": 100, "symbolStrokeWidth": 1, "labelOffset": 20, "rowPadding": 5}}
   }}
 ]
},

{"width": 72, "height": 425, "data": {"values": []}, "mark": "point",
 "title": {"text": "C", "anchor": "start", "frame": "group", "dx": 5, "offset": -17, "fontSize": 32, "baseline": "alphabetic", "fontWeight": "normal"}},
{"width": 274, "height": 325,
 "layer": [
  {"data": {"name": "cumC"}, "mark": {"type": "line", "color": "black", "strokeWidth": 0.8},
   "encoding": {
    "x": {"field": "t", "type": "quantitative", "scale": {"domain": [0, 645], "nice": false, "range": [18, 274]}, "axis": {"values": [0,200,400,600], "title": "Time (s)", "labelPadding": 8, "titleY": 42, "titleX": 141, "titleBaseline": "middle"}},
    "y": {"field": "n", "type": "quantitative", "scale": {"domain": [0, 80], "nice": false}, "axis": {"values": [0,20,40,60,80], "title": ["Cumulative", "number of up-ward steps"], "titleLineHeight": 27, "offset": -18, "labelPadding": 8, "titleX": -78, "titleBaseline": "middle"}}}},
  {"data": {"name": "cumC"}, "mark": {"type": "point", "shape": "triangle-down", "filled": true, "fill": "white", "stroke": "black", "strokeWidth": 1, "size": 100, "opacity": 1},
   "encoding": {"x": {"field": "t", "type": "quantitative", "scale": {"domain": [0, 645], "nice": false, "range": [18, 274]}}, "y": {"field": "n", "type": "quantitative", "scale": {"domain": [0, 80], "nice": false}}}},
  {"data": {"name": "boxC"}, "mark": {"type": "rect", "filled": false, "stroke": "black", "strokeWidth": 1.5},
   "encoding": {"x": {"field": "t1", "type": "quantitative", "scale": {"domain": [0, 645], "nice": false, "range": [18, 274]}}, "x2": {"field": "t2"}, "y": {"field": "n1", "type": "quantitative", "scale": {"domain": [0, 80], "nice": false}}, "y2": {"field": "n2"}}},
  {"data": {"name": "segC"}, "mark": {"type": "rule", "color": "black", "strokeWidth": 1.5},
   "encoding": {"x": {"field": "t1", "type": "quantitative", "scale": {"domain": [0, 645], "nice": false, "range": [18, 274]}}, "x2": {"field": "t2"}, "y": {"field": "n1", "type": "quantitative", "scale": {"domain": [0, 80], "nice": false}}, "y2": {"field": "n2"}}},
  {"data": {"name": "traceC"}, "mark": {"type": "line", "color": "black", "strokeWidth": 1},
   "encoding": {"x": {"field": "t", "type": "quantitative", "scale": {"domain": [0, 645], "nice": false, "range": [18, 274]}}, "y": {"field": "n", "type": "quantitative", "scale": {"domain": [0, 80], "nice": false}}}},
  {"data": {"name": "arrowC"}, "mark": {"type": "rule", "color": "black", "strokeWidth": 3},
   "encoding": {"x": {"field": "t", "type": "quantitative", "scale": {"domain": [0, 645], "nice": false, "range": [18, 274]}}, "y": {"field": "top", "type": "quantitative", "scale": {"domain": [0, 80], "nice": false}}, "y2": {"field": "tip"}}},
  {"data": {"name": "arrowC"}, "mark": {"type": "point", "shape": "M-1,-1.3L0,0L1,-1.3", "filled": false, "stroke": "black", "strokeWidth": 3, "size": 170, "opacity": 1},
   "encoding": {"x": {"field": "t", "type": "quantitative", "scale": {"domain": [0, 645], "nice": false, "range": [18, 274]}}, "y": {"field": "tip", "type": "quantitative", "scale": {"domain": [0, 80], "nice": false}}}},
  {"data": {"name": "textC"}, "mark": {"type": "text", "align": "left", "baseline": "middle", "fontSize": 16, "color": "black"},
   "encoding": {"x": {"field": "t", "type": "quantitative", "scale": {"domain": [0, 645], "nice": false, "range": [18, 274]}}, "y": {"field": "n", "type": "quantitative", "scale": {"domain": [0, 80], "nice": false}}, "text": {"field": "label"}}},
  {"data": {"values": [{"t": 130, "n": 71.8}]}, "mark": {"type": "point", "shape": "triangle-down", "filled": true, "fill": "white", "stroke": "black", "strokeWidth": 1, "size": 50, "opacity": 1},
   "encoding": {"x": {"field": "t", "type": "quantitative", "scale": {"domain": [0, 645], "nice": false, "range": [18, 274]}}, "y": {"field": "n", "type": "quantitative", "scale": {"domain": [0, 80], "nice": false}}}}
 ]
},
{"width": 72, "height": 1, "data": {"values": []}, "mark": "point",
 "title": {"text": "D", "anchor": "start", "frame": "group", "dx": 34, "offset": -17, "fontSize": 32, "baseline": "alphabetic", "fontWeight": "normal"}},
{"width": 257, "height": 325,
 "data": {"name": "cumD"},
 "mark": {"type": "point", "filled": true, "opacity": 1, "strokeWidth": 1, "size": 100},
 "encoding": {
  "x": {"field": "t", "type": "quantitative", "scale": {"domain": [0, 645], "nice": false, "range": [2, 257]}, "axis": {"values": [0,200,400,600], "title": "Time (s)", "labelPadding": 7, "titleY": 42, "titleX": 125, "titleBaseline": "middle"}},
  "y": {"field": "n", "type": "quantitative", "scale": {"domain": [0, 80], "nice": false}, "axis": {"values": [0,20,40,60,80], "title": null, "offset": -2, "labelPadding": 13}},
  "shape": {"field": "m", "type": "nominal", "scale": {"domain": ["WT","E466K","P242S","R39C"], "range": ["circle","circle","triangle-down","triangle-up"]},
    "legend": {"title": null, "orient": "none", "legendX": 31, "legendY": 19, "labelFontSize": 17, "symbolSize": 90, "symbolStrokeWidth": 1, "labelOffset": 12, "rowPadding": 4}},
  "fill": {"field": "m", "type": "nominal", "scale": {"domain": ["WT","E466K","P242S","R39C"], "range": ["black","white","black","white"]},
    "legend": {"title": null, "orient": "none", "legendX": 31, "legendY": 19, "labelFontSize": 17, "symbolSize": 90, "symbolStrokeWidth": 1, "labelOffset": 12, "rowPadding": 4}},
  "stroke": {"field": "m", "type": "nominal", "scale": {"domain": ["WT","E466K","P242S","R39C"], "range": ["black","black","black","black"]},
    "legend": {"title": null, "orient": "none", "legendX": 31, "legendY": 19, "labelFontSize": 17, "symbolSize": 90, "symbolStrokeWidth": 1, "labelOffset": 12, "rowPadding": 4}}
 }
},

{"width": 72, "height": 326, "data": {"values": []}, "mark": "point",
 "title": {"text": "E", "anchor": "start", "frame": "group", "dx": 5, "offset": -17, "fontSize": 32, "baseline": "alphabetic", "fontWeight": "normal"}},
{"width": 261, "height": 326,
 "title": {"text": "Reversible steps", "fontSize": 20, "fontWeight": "normal", "anchor": "middle", "frame": "group", "offset": -45, "dx": 9.5, "baseline": "alphabetic"},
 "data": {"name": "barE"},
 "encoding": {"x": {"field": "g", "type": "nominal", "sort": null, "scale": {"type": "band", "domain": ["WT","P242S","E466K","R39C"], "range": [16, 261], "paddingInner": 0.39, "paddingOuter": 0.57, "align": 0.66}, "axis": {"title": null, "labelAngle": -35, "labelAlign": "right", "labelBaseline": "middle", "labelPadding": 8}}},
 "layer": [
  {"mark": {"type": "bar", "color": "black", "opacity": 1},
   "encoding": {"y": {"field": "v", "type": "quantitative", "scale": {"domain": [0, 0.3], "nice": false}, "axis": {"values": [0,0.05,0.1,0.15,0.2,0.25,0.3], "format": ".2f", "title": "Frequency (steps/s)", "offset": -16, "labelPadding": 5, "titleX": -75, "titleBaseline": "middle"}}}},
  {"mark": {"type": "rule", "color": "black", "strokeWidth": 1.5},
   "encoding": {"y": {"field": "v", "type": "quantitative", "scale": {"domain": [0, 0.3], "nice": false}}, "y2": {"field": "up"}}},
  {"mark": {"type": "tick", "color": "black", "thickness": 1.5, "size": 18, "opacity": 1},
   "encoding": {"y": {"field": "up", "type": "quantitative", "scale": {"domain": [0, 0.3], "nice": false}}}},
  {"mark": {"type": "text", "baseline": "bottom", "dy": -9, "fontSize": 20, "color": "black"},
   "encoding": {"y": {"field": "up", "type": "quantitative", "scale": {"domain": [0, 0.3], "nice": false}}, "text": {"field": "p"}}},
  {"mark": {"type": "text", "baseline": "bottom", "dy": -31, "fontSize": 20, "color": "black"},
   "encoding": {"y": {"field": "up", "type": "quantitative", "scale": {"domain": [0, 0.3], "nice": false}}, "text": {"field": "c"}}}
 ]
},
{"width": 72, "height": 1, "data": {"values": []}, "mark": "point",
 "title": {"text": "F", "anchor": "start", "frame": "group", "dx": 34, "offset": -16, "fontSize": 32, "baseline": "alphabetic", "fontWeight": "normal"}},
{"width": 250, "height": 326,
 "title": {"text": ["Irreversible up-ward", "steps"], "lineHeight": 20, "fontSize": 20, "fontWeight": "normal", "anchor": "middle", "frame": "group", "offset": -64, "dx": 5, "baseline": "alphabetic"},
 "data": {"name": "barF"},
 "encoding": {"x": {"field": "g", "type": "nominal", "sort": null, "scale": {"type": "band", "domain": ["WT","P242S","E466K","R39C"], "paddingInner": 0.39, "paddingOuter": 0.622, "align": 0.577}, "axis": {"title": null, "labelAngle": -35, "labelAlign": "right", "labelBaseline": "middle", "labelPadding": 8}}},
 "layer": [
  {"mark": {"type": "bar", "color": "black", "opacity": 1},
   "encoding": {"y": {"field": "v", "type": "quantitative", "scale": {"domain": [0, 0.03], "nice": false}, "axis": {"values": [0,0.005,0.01,0.015,0.02,0.025,0.03], "format": ".3f", "title": null, "labelPadding": 2}}}},
  {"mark": {"type": "rule", "color": "black", "strokeWidth": 1.5},
   "encoding": {"y": {"field": "v", "type": "quantitative", "scale": {"domain": [0, 0.03], "nice": false}}, "y2": {"field": "up"}}},
  {"mark": {"type": "tick", "color": "black", "thickness": 1.5, "size": 18, "opacity": 1},
   "encoding": {"y": {"field": "up", "type": "quantitative", "scale": {"domain": [0, 0.03], "nice": false}}}},
  {"mark": {"type": "text", "baseline": "bottom", "dy": -9, "fontSize": 20, "color": "black"},
   "encoding": {"y": {"field": "up", "type": "quantitative", "scale": {"domain": [0, 0.03], "nice": false}}, "text": {"field": "p"}}},
  {"mark": {"type": "text", "baseline": "bottom", "dy": -31, "fontSize": 20, "color": "black"},
   "encoding": {"y": {"field": "up", "type": "quantitative", "scale": {"domain": [0, 0.03], "nice": false}}, "text": {"field": "c"}}},
  {"mark": {"type": "text", "baseline": "bottom", "dy": -48, "fontSize": 22, "color": "black"},
   "encoding": {"y": {"field": "up", "type": "quantitative", "scale": {"domain": [0, 0.03], "nice": false}}, "text": {"field": "s"}}}
 ]
}
],
"config": {
 "view": {"stroke": null},
 "font": "Liberation Sans",
 "axis": {"domainColor": "black", "tickColor": "black", "labelColor": "black", "titleColor": "black", "labelFontSize": 20, "titleFontSize": 20, "titleFontWeight": "normal", "grid": false, "domainWidth": 1.5, "tickWidth": 1.5, "tickSize": 5, "labelFlush": false, "labelOverlap": false, "labelFont": "Liberation Sans", "titleFont": "Liberation Sans"},
 "legend": {"labelFont": "Liberation Sans", "labelColor": "black", "padding": 0},
 "title": {"font": "Liberation Sans", "color": "black", "fontWeight": "normal"},
 "text": {"font": "Liberation Sans"}
}
}
